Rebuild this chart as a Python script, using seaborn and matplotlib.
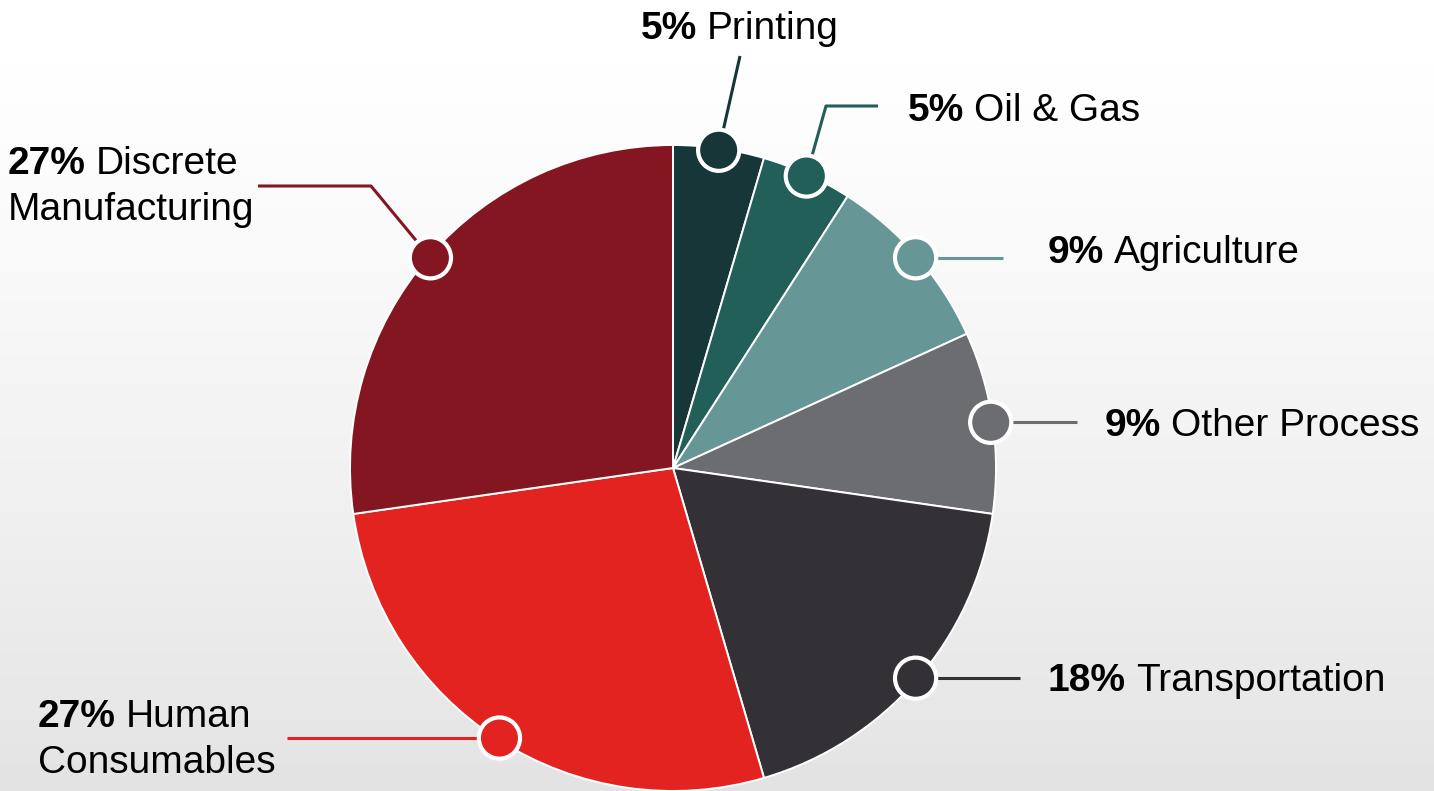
import numpy as np
import matplotlib
matplotlib.use("Agg")
import matplotlib.pyplot as plt
import seaborn as sns
import pandas as pd

# ---- data ----
categories = ["Printing", "Oil & Gas", "Agriculture", "Other Process",
              "Transportation", "Human Consumables", "Discrete Manufacturing"]
values = [1, 1, 2, 2, 4, 6, 6]
colors = ["#163637", "#225F59", "#669796", "#6C6D71", "#333136", "#E2231F", "#841621"]
label_lines = [["Printing"], ["Oil & Gas"], ["Agriculture"], ["Other Process"],
               ["Transportation"], ["Human", "Consumables"], ["Discrete", "Manufacturing"]]

# ---- layout (pixel coords, y from top; None = same y as the marker) ----
W, H = 1434, 791
CX, CY, R = 673, 468, 323
label_pos = [(641, 39), (908, 121), (1048, 263), (1105, 436),
             (1048, 691), (38, 727), (8, 174)]
elbows = [[(740, 56)], [(826, 106), (878, 106)], [(1003, None)], [(1077, None)],
          [(1020, None)], [(287, None)], [(371, 186), (258, 186)]]
LINE_GAP = 46

sns.set_theme(style="white")
plt.rcParams['font.family'] = ['Liberation Sans', 'DejaVu Sans']

fig = plt.figure(figsize=(W / 100, H / 100), dpi=100)
# background gradient
bg = fig.add_axes([0, 0, 1, 1], zorder=0)
grad = np.linspace(0, 1, 256) ** 1.3
img = 1.0 - 0.11 * grad
bg.imshow(np.tile(img[:, None], (1, 4)), cmap="gray", vmin=0, vmax=1,
          aspect="auto", extent=[0, 1, 0, 1], origin="upper")
bg.axis("off")

ax = fig.add_axes([0, 0, 1, 1], zorder=1)
ax.patch.set_alpha(0)

def py(y):
    return H - y

ax.pie(values, colors=colors, startangle=90, counterclock=False,
       center=(CX, py(CY)), radius=R, frame=True,
       wedgeprops=dict(edgecolor="white", linewidth=1.4))
ax.set_xlim(0, W)
ax.set_ylim(0, H)
ax.set_aspect("auto")
ax.axis("off")

total = sum(values)
cum = np.cumsum(values)
mids = (cum - np.array(values) / 2) / total
angles = np.deg2rad(90 - mids * 360)
mr = R - 2
mx = CX + mr * np.cos(angles)
my = py(CY) + mr * np.sin(angles)

df = pd.DataFrame({"x": mx, "y": my, "cat": categories})

# leader lines
for i in range(len(categories)):
    xs = [mx[i]] + [p[0] for p in elbows[i]]
    ys = [my[i]] + [my[i] if p[1] is None else py(p[1]) for p in elbows[i]]
    ax.plot(xs, ys, color=colors[i], lw=2.2, zorder=3, solid_capstyle="butt")

sns.scatterplot(data=df, x="x", y="y", hue="cat", palette=colors, s=880,
                edgecolor="white", linewidth=3, legend=False, ax=ax, zorder=4)
ax.set_xlim(0, W)
ax.set_ylim(0, H)
ax.axis("off")

fig.canvas.draw()
renderer = fig.canvas.get_renderer()
FS = 28
for i, v in enumerate(values):
    pct = f"{round(v / total * 100)}%"
    lx, ly = label_pos[i]
    t = ax.text(lx, py(ly), pct, fontsize=FS, fontweight="bold", color="black",
                ha="left", va="baseline", zorder=5)
    bb = t.get_window_extent(renderer)
    ax.text(lx + bb.width + 10, py(ly), label_lines[i][0], fontsize=FS,
            color="black", ha="left", va="baseline", zorder=5)
    for k, extra in enumerate(label_lines[i][1:], start=1):
        ax.text(lx, py(ly + LINE_GAP * k), extra, fontsize=FS, color="black",
                ha="left", va="baseline", zorder=5)

fig.savefig("out.png", dpi=100)
